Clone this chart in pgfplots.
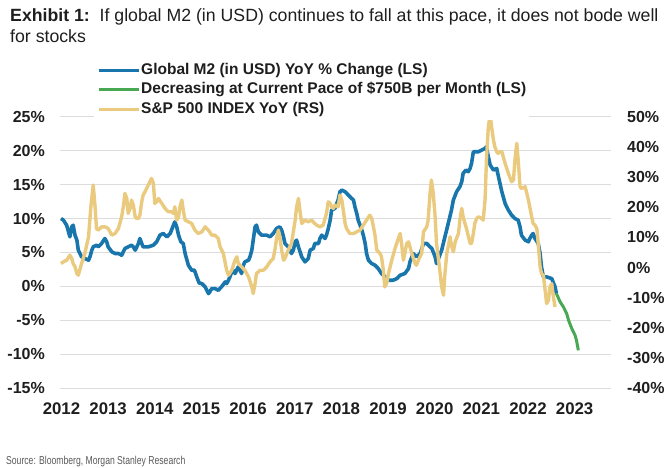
\documentclass[border=0pt]{standalone}
\usepackage{pgfplots}
\pgfplotsset{compat=1.18}
\usepackage{fontspec}
\setmainfont{Liberation Sans}
\newfontfamily\condfont{Liberation Sans}[FakeStretch=0.75]
\definecolor{msblue}{RGB}{24,118,173}
\definecolor{msgold}{RGB}{234,202,126}
\definecolor{msgreen}{RGB}{72,168,84}
\definecolor{gridgray}{RGB}{220,220,220}
\definecolor{txt}{RGB}{30,30,30}
\pgfplotsset{
  base/.style={
    at={(60pt,79.7pt)}, anchor=south west, scale only axis,
    width=551pt, height=271.6pt,
    xmin=2011.968, xmax=2023.78,
    axis line style={draw=none}, major tick length=0pt,
    clip=false,
    tick label style={font=\bfseries\fontsize{16}{18}\selectfont, text=txt},
  }
}
\begin{document}
\begin{tikzpicture}
\path[use as bounding box] (0,0) rectangle (670pt,468pt);
\node[anchor=base west, inner sep=0pt, text=txt, font=\fontsize{17.7}{21}\selectfont] at (10pt,446pt) {\textbf{Exhibit 1:}\ \ If global M2 (in USD) continues to fall at this pace, it does not bode well};
\node[anchor=base west, inner sep=0pt, text=txt, font=\fontsize{17.7}{21}\selectfont] at (10pt,425pt) {for stocks};
\node[anchor=base west, inner sep=0pt, text=black!65, font=\condfont\fontsize{11.5}{13}\selectfont] at (6pt,3pt) {Source: Bloomberg, Morgan Stanley Research};

\begin{axis}[base,
  ymin=-15, ymax=25,
  ytick={-15,-10,-5,0,5,10,15,20,25},
  yticklabels={-15\%,-10\%,-5\%,0\%,5\%,10\%,15\%,20\%,25\%},
  xtick={2012,2013,2014,2015,2016,2017,2018,2019,2020,2021,2022,2023},
  xticklabels={2012,2013,2014,2015,2016,2017,2018,2019,2020,2021,2022,2023},
  xticklabel style={anchor=base, inner sep=0pt, yshift=-26.5pt, font=\bfseries\fontsize{16.8}{18}\selectfont},
  yticklabel style={anchor=east, inner sep=0pt, xshift=-15pt},
  ymajorgrids, grid style={gridgray, line width=1.5pt},
]
\addplot[msblue, line width=3.6pt, line join=round] coordinates {
(2011.99,10.0) (2012.04,9.77) (2012.11,9.03) (2012.15,8.05) (2012.18,7.31) (2012.22,8.78) (2012.25,9.03) (2012.29,7.55) (2012.33,6.82) (2012.36,5.34) (2012.43,4.36) (2012.50,4.11) (2012.58,3.87) (2012.61,4.36) (2012.65,5.34) (2012.68,5.83) (2012.75,6.08) (2012.79,5.83) (2012.86,6.33) (2012.93,7.06) (2012.97,6.57) (2013.00,5.83) (2013.08,5.10) (2013.15,4.85) (2013.22,4.85) (2013.29,4.60) (2013.36,5.59) (2013.43,5.83) (2013.50,6.08) (2013.54,5.83) (2013.58,5.34) (2013.65,6.33) (2013.68,7.06) (2013.72,6.33) (2013.75,5.83) (2013.86,5.83) (2013.97,6.08) (2014.04,6.57) (2014.11,7.55) (2014.18,7.80) (2014.26,7.31) (2014.33,7.80) (2014.40,9.03) (2014.43,9.52) (2014.47,8.78) (2014.51,7.55) (2014.56,6.57) (2014.61,6.33) (2014.65,4.85) (2014.72,3.13) (2014.79,2.39) (2014.85,2.39) (2014.90,1.41) (2014.95,0.52)
(2015.01,0.42) (2015.08,-0.07) (2015.15,-1.05) (2015.18,-0.80) (2015.22,-0.31) (2015.29,-0.31) (2015.36,-0.56) (2015.43,-0.07) (2015.51,0.67) (2015.54,0.42) (2015.58,0.92) (2015.61,1.41) (2015.65,2.15) (2015.68,2.39) (2015.72,1.90) (2015.79,2.88) (2015.83,2.39) (2015.86,1.90) (2015.90,3.13) (2015.93,3.62) (2016.01,3.87) (2016.04,4.36) (2016.08,5.34) (2016.11,6.82) (2016.15,8.78) (2016.18,9.03) (2016.22,8.05) (2016.29,7.55) (2016.40,7.55) (2016.47,7.31) (2016.54,7.80) (2016.61,8.54) (2016.68,8.78) (2016.72,8.29) (2016.76,7.31) (2016.79,6.33) (2016.86,5.83) (2016.93,4.85) (2016.97,5.34) (2017.01,6.57) (2017.04,6.82) (2017.08,5.83) (2017.15,4.36) (2017.22,3.62) (2017.29,4.11) (2017.33,5.34) (2017.40,5.59) (2017.43,6.33) (2017.51,6.33) (2017.54,7.06) (2017.58,7.55) (2017.65,7.06) (2017.68,7.55) (2017.72,8.54) (2017.76,9.77) (2017.79,11.24) (2017.86,11.49) (2017.93,12.72)
(2017.97,13.95) (2018.01,14.19) (2018.08,13.95) (2018.15,13.45) (2018.22,12.96) (2018.26,12.72) (2018.29,11.73) (2018.33,10.75) (2018.36,9.77) (2018.40,9.03) (2018.44,8.29) (2018.47,7.55) (2018.51,6.33) (2018.54,4.85) (2018.58,3.87) (2018.65,3.37) (2018.72,3.13) (2018.79,2.64) (2018.86,1.90) (2018.94,1.41) (2019.01,0.92) (2019.11,0.92) (2019.19,1.16) (2019.26,1.65) (2019.36,1.90) (2019.44,2.64) (2019.47,3.62) (2019.54,4.85) (2019.61,4.36) (2019.69,4.85) (2019.76,6.33) (2019.83,6.33) (2019.90,5.83) (2019.94,5.59) (2020.01,4.36) (2020.04,3.37) (2020.15,5.34) (2020.22,7.31) (2020.29,9.27) (2020.36,11.24) (2020.40,12.72) (2020.47,13.95) (2020.54,14.68) (2020.58,15.42) (2020.61,16.65) (2020.67,17.14) (2020.72,16.90) (2020.76,17.39) (2020.79,18.12) (2020.83,19.84) (2020.90,19.84)
(2020.94,19.84) (2021.01,20.09) (2021.08,20.34) (2021.11,20.58) (2021.15,19.10) (2021.19,17.88) (2021.26,17.14) (2021.33,17.39) (2021.36,16.40) (2021.40,15.17) (2021.44,13.95) (2021.51,12.22) (2021.58,11.24) (2021.65,10.50) (2021.72,10.01) (2021.79,9.77) (2021.83,8.78) (2021.86,7.55) (2021.94,6.82) (2022.01,6.57) (2022.04,7.06) (2022.08,7.55) (2022.11,7.80) (2022.15,7.06) (2022.22,6.33) (2022.26,4.85) (2022.29,2.88) (2022.33,1.41) (2022.40,1.41) (2022.51,1.16) (2022.58,-0.07) (2022.61,-1.05)
};
\addplot[msgreen, line width=3pt, line join=round] coordinates {
(2022.61,-1.05) (2022.69,-2.28) (2022.76,-3.02) (2022.83,-4.00) (2022.87,-4.98) (2022.94,-6.21) (2023.01,-7.20) (2023.04,-7.93) (2023.08,-9.41)
};
\end{axis}

\begin{axis}[base,
  ymin=-40, ymax=50,
  ytick={-40,-30,-20,-10,0,10,20,30,40,50},
  yticklabels={-40\%,-30\%,-20\%,-10\%,0\%,10\%,20\%,30\%,40\%,50\%},
  yticklabel pos=right,
  yticklabel style={anchor=west, inner sep=0pt, xshift=16pt},
  xtick=\empty,
  legend cell align=left,
  legend image code/.code={\draw[#1, line width=3pt] (0pt,0pt) -- (40pt,0pt);},
  legend style={at={(0.0617,1.2115)}, anchor=north west, fill=white, draw=none,
    inner sep=3pt, font=\bfseries\fontsize{15.5}{18}\selectfont, text=txt,
    nodes={inner sep=0pt, text height=12pt, text depth=3.5pt, anchor=west},
    row sep=4pt, column sep=1pt},
]
\addlegendimage{msblue}
\addlegendentry{Global M2 (in USD) YoY \% Change (LS)}
\addlegendimage{msgreen}
\addlegendentry{Decreasing at Current Pace of \$750B per Month (LS)}
\addplot[msgold, line width=3.4pt, line join=round] coordinates {
(2011.99,1.34) (2012.04,1.90) (2012.11,2.45) (2012.18,4.11) (2012.22,3.00) (2012.25,1.34) (2012.29,0.24) (2012.33,-1.97) (2012.36,-2.53) (2012.40,-0.32) (2012.43,1.34) (2012.50,4.66) (2012.58,10.20) (2012.63,20.15) (2012.68,27.34) (2012.72,20.15) (2012.75,12.96) (2012.79,12.41) (2012.86,13.51) (2012.93,13.51) (2013.00,12.96) (2013.04,11.85) (2013.08,10.75) (2013.15,11.30) (2013.22,12.96) (2013.25,14.62) (2013.29,16.83) (2013.33,20.70) (2013.36,24.57) (2013.40,22.91) (2013.43,17.94) (2013.47,19.60) (2013.50,22.36) (2013.54,20.70) (2013.58,16.83) (2013.61,16.28) (2013.65,16.28) (2013.68,17.38) (2013.72,21.81) (2013.75,24.02) (2013.79,25.13) (2013.86,27.34) (2013.93,29.55) (2013.97,27.89) (2014.00,21.26) (2014.04,21.81) (2014.08,22.91) (2014.15,21.26) (2014.22,19.60) (2014.29,18.49) (2014.36,18.49) (2014.40,17.94) (2014.43,20.15) (2014.47,15.73) (2014.51,16.83) (2014.54,20.15) (2014.58,22.36) (2014.61,19.04) (2014.65,15.73) (2014.72,15.17) (2014.79,14.62) (2014.86,12.41) (2014.93,11.30)
(2015.01,11.85) (2015.08,13.51) (2015.15,12.41) (2015.22,10.75) (2015.29,10.75) (2015.36,9.64) (2015.40,6.88) (2015.47,4.66) (2015.54,-0.87) (2015.58,-2.53) (2015.65,-0.87) (2015.72,2.45) (2015.76,3.56) (2015.79,1.34) (2015.86,0.24) (2015.93,-0.87) (2016.01,-3.08) (2016.08,-6.40) (2016.11,-8.61) (2016.15,-5.29) (2016.18,-1.97) (2016.26,-0.87) (2016.33,-0.87) (2016.40,0.24) (2016.47,1.90) (2016.54,3.00) (2016.58,6.32) (2016.61,9.64) (2016.65,12.41) (2016.68,10.20) (2016.72,5.77) (2016.76,2.45) (2016.79,3.00) (2016.86,5.77) (2016.93,7.98) (2017.01,15.73) (2017.04,20.15) (2017.08,22.91) (2017.11,19.04) (2017.15,14.62) (2017.22,15.73) (2017.29,15.17) (2017.36,15.73) (2017.43,14.62) (2017.47,14.07) (2017.54,13.51) (2017.61,14.07) (2017.68,17.94) (2017.72,21.81) (2017.76,21.26) (2017.79,20.15) (2017.83,19.60) (2017.86,20.70) (2017.93,20.15)
(2017.97,24.02) (2018.01,22.36) (2018.04,19.04) (2018.08,14.62) (2018.11,12.96) (2018.18,11.30) (2018.26,11.30) (2018.33,11.85) (2018.40,12.41) (2018.47,14.07) (2018.54,15.73) (2018.61,17.38) (2018.65,16.28) (2018.68,14.07) (2018.72,10.75) (2018.76,5.77) (2018.83,4.66) (2018.86,3.56) (2018.90,-0.87) (2018.93,-6.40) (2018.97,-5.29) (2019.01,-1.97) (2019.08,2.45) (2019.15,6.32) (2019.22,9.64) (2019.26,11.30) (2019.29,7.98) (2019.33,2.45) (2019.36,4.66) (2019.40,7.98) (2019.44,8.53) (2019.47,6.88) (2019.51,4.66) (2019.58,1.34) (2019.61,0.79) (2019.65,2.45) (2019.72,4.66) (2019.76,11.85) (2019.83,13.51) (2019.86,15.73) (2019.90,24.57) (2019.93,29.00) (2019.97,24.57) (2020.01,16.83) (2020.04,7.98) (2020.11,-0.87) (2020.15,-6.40) (2020.19,-9.16) (2020.22,-1.97) (2020.26,4.66) (2020.29,6.88) (2020.33,10.20) (2020.36,7.43) (2020.40,5.22) (2020.44,8.53) (2020.51,11.30) (2020.54,15.73) (2020.58,19.60) (2020.61,16.83) (2020.69,12.41) (2020.76,7.98) (2020.79,7.98) (2020.83,11.30) (2020.86,14.62) (2020.90,16.28)
(2020.94,16.83) (2021.01,16.28) (2021.04,15.73) (2021.08,22.36) (2021.11,35.64) (2021.15,46.70) (2021.19,50.57) (2021.22,46.70) (2021.26,42.27) (2021.29,40.06) (2021.33,38.40) (2021.36,37.85) (2021.40,38.40) (2021.44,38.40) (2021.47,36.74) (2021.51,34.53) (2021.58,31.21) (2021.65,28.45) (2021.69,29.00) (2021.72,35.64) (2021.76,41.17) (2021.79,35.64) (2021.83,26.79) (2021.86,26.23) (2021.94,26.79) (2022.01,22.36) (2022.08,16.83) (2022.11,14.62) (2022.15,14.07) (2022.19,12.96) (2022.22,7.98) (2022.26,0.24) (2022.29,-1.97) (2022.33,-2.53) (2022.36,-6.40) (2022.40,-11.93) (2022.44,-10.83) (2022.47,-6.40) (2022.51,-5.29) (2022.54,-9.16) (2022.58,-13.04)
};
\addlegendentry{S\&P 500 INDEX YoY (RS)}
\end{axis}
\end{tikzpicture}
\end{document}
